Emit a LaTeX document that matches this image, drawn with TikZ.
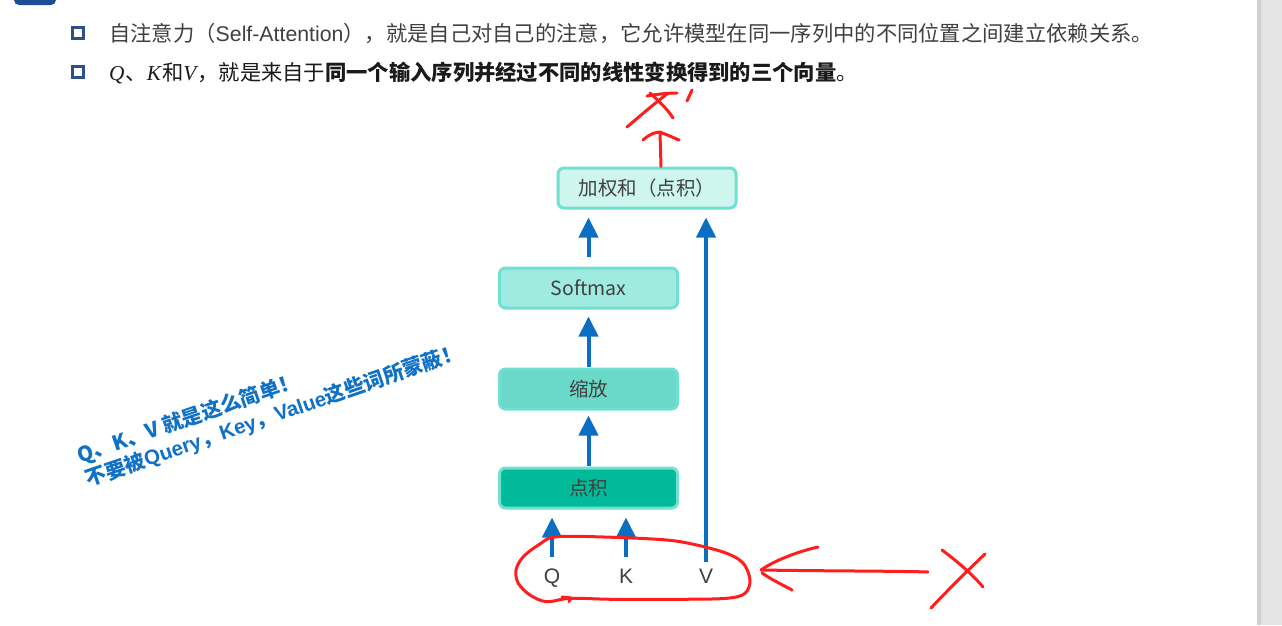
\documentclass[tikz,border=0pt]{standalone}
\usepackage{fontspec}
\setmainfont{Liberation Sans}
\newfontfamily\cjk{Noto Sans CJK SC}
\newfontfamily\serifit{Liberation Serif}
\usetikzlibrary{arrows.meta}
\definecolor{txtgray}{HTML}{404040}
\definecolor{txtdark}{HTML}{1A1A1A}
\definecolor{bulletblue}{HTML}{2E4F8E}
\definecolor{arrowblue}{HTML}{0A6FC2}
\definecolor{noteblue}{HTML}{1071C5}
\definecolor{boxborder}{HTML}{70E0D2}
\definecolor{fillA}{HTML}{CFF5EF}
\definecolor{fillB}{HTML}{A0EBE0}
\definecolor{fillC}{HTML}{6AD9C9}
\definecolor{fillD}{HTML}{00BA9A}
\definecolor{inkred}{HTML}{FF1E1E}
\definecolor{panelgray}{HTML}{E4E4E4}
\definecolor{panelshade}{HTML}{D0D0D0}
\definecolor{tabblue}{HTML}{1F4E99}
\tikzset{
  bulletbox/.style={draw=bulletblue, line width=3pt, minimum size=11pt, inner sep=0pt},
  stagebox/.style={draw=boxborder, line width=3pt, rounded corners=6pt, minimum width=178pt,
    minimum height=40pt, inner sep=0pt, text=txtgray, font=\cjk\fontsize{19.5}{22}\selectfont},
  inlabel/.style={inner sep=0pt, anchor=base, text=txtgray, font=\fontsize{21}{24}\selectfont},
  barrow/.style={draw=arrowblue, line width=4pt, -{Triangle[width=19pt,length=20pt]}},
  redink/.style={draw=inkred, line width=3pt, line cap=round, line join=round}
}
\begin{document}
\begin{tikzpicture}[x=1pt,y=-1pt]
\useasboundingbox (0,0) rectangle (1282,625);
\fill[white] (0,0) rectangle (1282,625);
% right panel
\fill[panelgray] (1258,0) rectangle (1282,625);
\fill[panelshade] (1257,0) rectangle (1261,625);
% top-left tab
\fill[tabblue, rounded corners=5pt] (14,-12) rectangle (56,5);
% bullets
\node[bulletbox] (b1) at (78,33) {};
\node[bulletbox] (b2) at (78,72) {};
\node[anchor=west, inner sep=0pt, text=txtgray, font=\cjk\fontsize{21.3}{25}\selectfont] (l1) at (109,34)
  {自注意力（{\rmfamily Self-Attention}），就是自己对自己的注意，它允许模型在同一序列中的不同位置之间建立依赖关系。};
\node[anchor=west, inner sep=0pt, text=txtdark, font=\cjk\fontsize{21.3}{25}\selectfont] (l2) at (109,73)
  {{\serifit\itshape Q\kern1pt}、{\serifit\itshape K\kern1pt}和{\serifit\itshape V\kern1pt}，就是来自于{\bfseries 同一个输入序列并经过不同的线性变换得到的三个向量}。};
% stages
\node[stagebox, fill=fillA] (ws) at (647,188) {加权和（点积）};
\node[stagebox, fill=fillB] (sm) at (588.5,288) {Softmax};
\node[stagebox, fill=fillC] (sc) at (588.5,389) {缩放};
\node[stagebox, fill=fillD] (dp) at (588.5,488) {点积};
% inputs
\node[inlabel] (q) at (552,583) {Q};
\node[inlabel] (k) at (626,583) {K};
\node[inlabel] (v) at (706,583) {V};
% arrows
\draw[barrow, shorten <=10pt, shorten >=8pt] (sm.north) -- (sm.north |- ws.south);
\draw[barrow, shorten <=1pt, shorten >=7pt] (sc.north) -- (sm.south);
\draw[barrow, shorten <=1pt, shorten >=5pt] (dp.north) -- (sc.south);
\draw[barrow, shorten <=11pt, shorten >=8pt] (q.north) -- (q.north |- dp.south);
\draw[barrow, shorten <=11pt, shorten >=8pt] (k.north) -- (k.north |- dp.south);
\draw[barrow, shorten <=6pt, shorten >=8pt] (v.north) -- (v.north |- ws.south);
% note
\node[rotate=19, align=left, inner sep=0pt, text=noteblue,
  font=\cjk\bfseries\fontsize{20.5}{25}\selectfont] (note) at (270,404)
  {Q、K、V 就是这么简单！\\不要被{\rmfamily Query}，{\rmfamily Key}，{\rmfamily Value}这些词所蒙蔽！};
% red ink: loop round the inputs
\draw[redink] plot[smooth cycle, tension=0.55] coordinates {
  (556.7,536.7) (613.3,537.3) (666.7,540) (696.7,545) (726.7,553.3) (743.3,563.3)
  (750,580) (745,593.3) (726.7,598.3) (680,599.3) (613.3,599.3) (570,598.3)
  (546.7,601.7) (530,595) (518.3,583.3) (516,570) (523.3,556.7) (540,544)};
\draw[redink] (562,597) -- (571,598) -- (569,601.5);
% red arrow from the right
\coordinate (rs) at (928,572);
\coordinate (re) at (761,570);
\draw[redink] (rs) .. controls (900,571) and (820,571) .. (re);
\draw[redink] (re) .. controls (775,560) and (800,551) .. (818,547);
\draw[redink] (762,573) .. controls (772,580) and (783,585) .. (792,590);
% red cross right
\draw[redink] (942,550) .. controls (958,562) and (972,574) .. (983,587);
\draw[redink] (985,554) .. controls (965,573) and (946,592) .. (931,608);
% red arrow up from top box
\coordinate (ua) at (660,133);
\draw[redink] (ws.north -| 661,0) -- (ua);
\draw[redink] (643,140) .. controls (650,134) and (655,132) .. (661,132);
\draw[redink] (662,133) .. controls (668,135) and (674,138) .. (679,140);
% red X' at top
\draw[redink] (627,127) .. controls (640,116) and (655,103) .. (667,94);
\draw[redink] (647,96) .. controls (658,94) and (668,93) .. (677,93);
\draw[redink] (650,93) .. controls (660,102) and (668,110) .. (673,118);
\draw[redink] (687,101) -- (692,90);
\end{tikzpicture}
\end{document}
